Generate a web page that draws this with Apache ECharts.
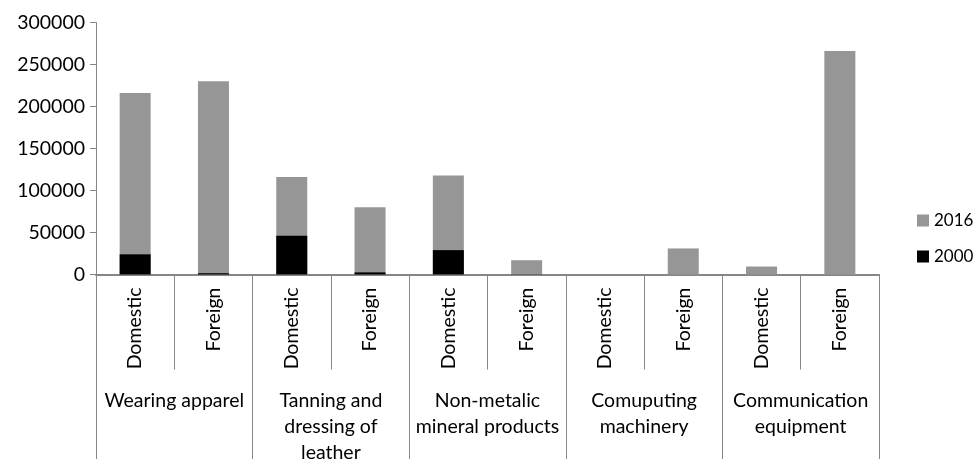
<!DOCTYPE html>
<html>
<head>
<meta charset="utf-8">
<script src="https://cdn.jsdelivr.net/npm/echarts@6/dist/echarts.min.js"></script>
<style>
  html, body { margin: 0; padding: 0; background: #fff; }
  #chart { width: 974px; height: 459px; }
</style>
</head>
<body>
<div id="chart"></div>
<script>
// Industry groups, each split into domestic / foreign firms
const groups = [
  'Wearing apparel',
  'Tanning and\ndressing of\nleather',
  'Non-metalic\nmineral products',
  'Comuputing\nmachinery',
  'Communication\nequipment'
];
const owners = ['Domestic', 'Foreign'];

// Values per bar, in group order (Domestic, Foreign, Domestic, Foreign, ...)
const values2016 = [216000, 230000, 116000, 80000, 118000, 17000, 0, 31000, 9500, 266000];
const values2000 = [24000, 1500, 46000, 2500, 29000, 300, 0, 0, 0, 0];

const yTicks = { min: 0, max: 300000, interval: 50000 };

const barCategories = [];
groups.forEach(function () { owners.forEach(function (o) { barCategories.push(o); }); });

const FONT = 'Lato';
const FONT_SIZE = 19.5;
const AXIS_GREY = '#868686';

const chart = echarts.init(document.getElementById('chart'), null, { renderer: 'canvas' });
chart.setOption({
  animation: false,
  textStyle: { fontFamily: FONT, color: '#000' },
  grid: { left: 96, right: 95, top: 22.5, bottom: 184.5, containLabel: false, outerBoundsMode: 'none' },
  legend: {
    orient: 'vertical',
    left: 912,
    top: 207,
    itemWidth: 12,
    itemHeight: 12,
    itemGap: 19,
    icon: 'rect',
    data: ['2016', '2000'],
    textStyle: { fontFamily: FONT, fontSize: 17, color: '#000' }
  },
  xAxis: [
    {
      type: 'category',
      data: barCategories,
      position: 'bottom',
      axisLine: { show: true, lineStyle: { color: AXIS_GREY, width: 2 } },
      axisTick: { show: true, interval: 0, length: 95, lineStyle: { color: AXIS_GREY, width: 1 } },
      axisLabel: {
        interval: 0, rotate: 90, margin: 13,
        fontFamily: FONT, fontSize: FONT_SIZE, color: '#000'
      },
      splitLine: { show: false }
    },
    {
      type: 'category',
      data: groups,
      position: 'bottom',
      axisLine: { show: false },
      axisTick: { show: true, interval: 0, length: 200, lineStyle: { color: AXIS_GREY, width: 1 } },
      axisLabel: {
        interval: 0, margin: 113, verticalAlign: 'top',
        fontFamily: FONT, fontSize: FONT_SIZE, color: '#000', lineHeight: 26, align: 'center'
      },
      splitLine: { show: false }
    }
  ],
  yAxis: {
    type: 'value',
    min: yTicks.min,
    max: yTicks.max,
    interval: yTicks.interval,
    axisLine: { show: true, lineStyle: { color: AXIS_GREY, width: 1 } },
    axisTick: { show: true, length: 6, lineStyle: { color: AXIS_GREY } },
    axisLabel: {
      margin: 11, fontFamily: FONT, fontSize: FONT_SIZE, color: '#000',
      formatter: function (v) { return String(v); }
    },
    splitLine: { show: false }
  },
  series: [
    {
      name: '2016',
      type: 'bar',
      xAxisIndex: 0,
      data: values2016,
      barWidth: 31,
      barGap: '-100%',
      itemStyle: { color: '#969696' }
    },
    {
      name: '2000',
      type: 'bar',
      xAxisIndex: 0,
      data: values2000,
      barWidth: 31,
      barGap: '-100%',
      itemStyle: { color: '#000000' }
    }
  ]
});
</script>
</body>
</html>
